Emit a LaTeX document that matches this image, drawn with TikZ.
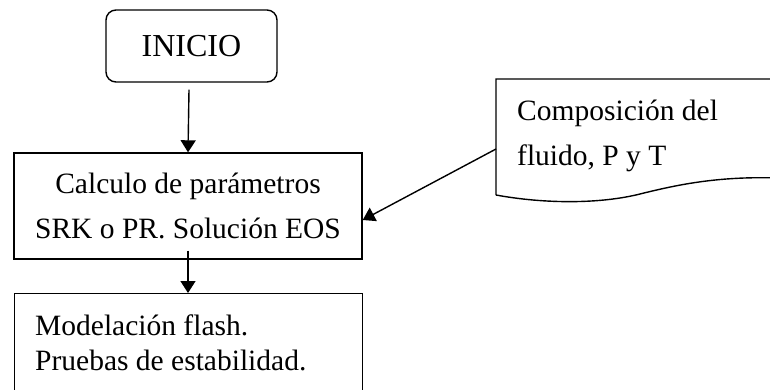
\documentclass[tikz,border=0pt]{standalone}
\usepackage{fontspec}
\setmainfont{Liberation Serif}
\usetikzlibrary{arrows.meta,calc}
\begin{document}
\begin{tikzpicture}[x=1pt,y=-1pt,
  every node/.style={font=\fontsize{29.5}{45}\selectfont},
  boxline/.style={draw=black,line width=1.4pt},
  flowbox/.style={boxline,rectangle,inner sep=0pt},
  startbox/.style={boxline,rectangle,rounded corners=10pt,inner sep=0pt},
  flowarrow/.style={line width=1.4pt,-{Triangle[length=12pt,width=15pt]}},
  plain/.style={inner sep=0pt,align=left}
]
\useasboundingbox (0,0) rectangle (770,389);
\clip (0,0) rectangle (770,389);

% start terminal
\node[startbox,minimum width=171pt,minimum height=72pt,font=\fontsize{32}{38}\selectfont]
  (inicio) at (191.5,46) {INICIO};

% parameter computation
\node[flowbox,minimum width=348pt,minimum height=106pt,align=center]
  (calc) at (188,206) {Calculo de parámetros\\SRK o PR. Solución EOS};

% flash modelling (runs past the lower edge)
\node[flowbox,minimum width=348pt,minimum height=120pt,anchor=north west]
  (model) at (14,293) {};
% multi-line text: the base anchor sits on the last line
\node[plain,anchor=base west,font=\fontsize{29.5}{35}\selectfont]
  (modeltext) at (35,370) {Modelación flash.\\Pruebas de estabilidad.};

% input data document with a wavy lower edge
\draw[boxline,line join=miter]
  (496,195) -- (496,79) -- (780,79) -- (780,178)
  .. controls (720,176) and (680,184) .. (640,194)
  .. controls (600,204) and (545,204) .. (496,195);
\coordinate (docin) at (496,149);
\node[plain,anchor=base west] (doctext) at (517,165)
  {Composición del\\fluido, P y T};

% connectors
\draw[flowarrow] ($(inicio.south)+(-2.5,7)$) -- (calc.north);
\draw[flowarrow] ($(calc.south)+(0,-9)$) -- (calc.south |- model.north);
\draw[flowarrow] (docin) -- ($(calc.east)+(0,14)$);
\end{tikzpicture}
\end{document}
